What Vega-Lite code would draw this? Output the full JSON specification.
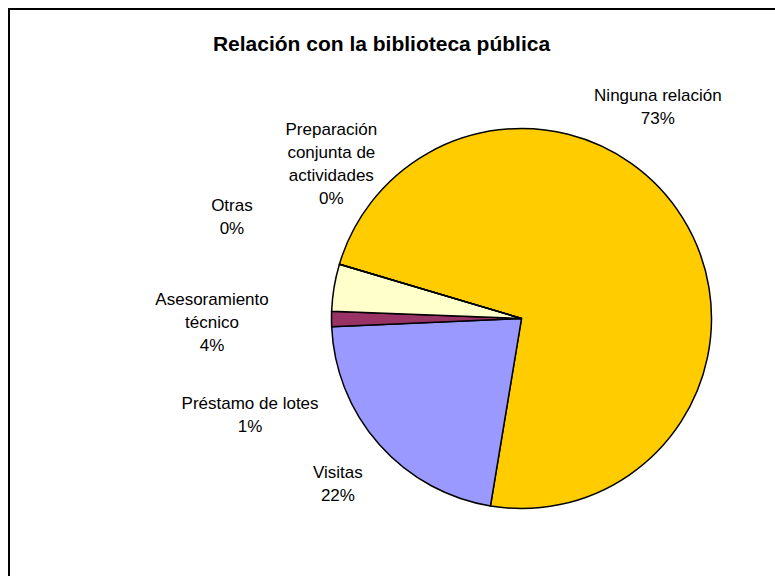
{
  "$schema": "https://vega.github.io/schema/vega-lite/v6.json",
  "width": 1025,
  "height": 619,
  "autosize": {"type": "none"},
  "padding": {"left": 9, "top": 9, "right": -259, "bottom": -52},
  "background": "white",
  "view": {"stroke": "black", "strokeWidth": 2, "fill": "white"},
  "title": {
    "text": "Relación con la biblioteca pública",
    "font": "Liberation Sans",
    "fontSize": 21,
    "fontWeight": "bold",
    "color": "black",
    "anchor": "middle",
    "frame": "group",
    "baseline": "alphabetic",
    "offset": 0,
    "dx": -140,
    "dy": 63
  },
  "config": {"view": {"stroke": "black", "strokeWidth": 2, "fill": "white"}},
  "data": {
    "values": [
      {"categoria": "Ninguna relación", "valor": 73.0, "orden": 1, "etiqueta": "Ninguna relación\n73%"},
      {"categoria": "Visitas", "valor": 21.7, "orden": 2, "etiqueta": "Visitas\n22%"},
      {"categoria": "Préstamo de lotes", "valor": 1.3, "orden": 3, "etiqueta": "Préstamo de lotes\n1%"},
      {"categoria": "Asesoramiento técnico", "valor": 4.0, "orden": 4, "etiqueta": "Asesoramiento\ntécnico\n4%"},
      {"categoria": "Otras", "valor": 0, "orden": 5, "etiqueta": "Otras\n0%"},
      {"categoria": "Preparación conjunta de actividades", "valor": 0, "orden": 6, "etiqueta": "Preparación\nconjunta de\nactividades\n0%"}
    ]
  },
  "transform": [
    {"stack": "valor", "groupby": [], "sort": [{"field": "orden", "order": "ascending"}], "as": ["v0", "v1"]}
  ],
  "layer": [
    {
      "mark": {"type": "arc", "outerRadius": 190, "stroke": "black", "strokeWidth": 1.5},
      "encoding": {
        "theta": {"field": "v0", "type": "quantitative", "stack": null, "scale": {"domain": [0, 100], "range": [5.00214, 11.28533]}},
        "theta2": {"field": "v1"},
        "color": {
          "field": "categoria",
          "type": "nominal",
          "scale": {
            "domain": ["Ninguna relación", "Visitas", "Préstamo de lotes", "Asesoramiento técnico", "Otras", "Preparación conjunta de actividades"],
            "range": ["#FFCC00", "#9999FF", "#993366", "#FFFFCC", "#CCFFFF", "#660066"]
          },
          "legend": null
        }
      }
    },
    {
      "transform": [{"filter": "datum.orden === 1"}],
      "mark": {"type": "text", "radius": 261, "thetaOffset": 1.8309, "font": "Liberation Sans", "fontSize": 17, "lineHeight": 23, "lineBreak": "\n", "align": "center", "baseline": "middle", "color": "black"},
      "encoding": {"theta": {"field": "v0", "type": "quantitative", "stack": null}, "text": {"field": "etiqueta"}}
    },
    {
      "transform": [{"filter": "datum.orden === 2"}],
      "mark": {"type": "text", "radius": 240, "thetaOffset": 0.7069, "font": "Liberation Sans", "fontSize": 17, "lineHeight": 23, "lineBreak": "\n", "align": "center", "baseline": "middle", "color": "black"},
      "encoding": {"theta": {"field": "v0", "type": "quantitative", "stack": null}, "text": {"field": "etiqueta"}}
    },
    {
      "transform": [{"filter": "datum.orden === 3"}],
      "mark": {"type": "text", "radius": 284.6, "thetaOffset": -0.2621, "font": "Liberation Sans", "fontSize": 17, "lineHeight": 23, "lineBreak": "\n", "align": "center", "baseline": "middle", "color": "black"},
      "encoding": {"theta": {"field": "v0", "type": "quantitative", "stack": null}, "text": {"field": "etiqueta"}}
    },
    {
      "transform": [{"filter": "datum.orden === 4"}],
      "mark": {"type": "text", "radius": 310, "thetaOffset": 0.0209, "font": "Liberation Sans", "fontSize": 17, "lineHeight": 23, "lineBreak": "\n", "align": "center", "baseline": "middle", "color": "black"},
      "encoding": {"theta": {"field": "v0", "type": "quantitative", "stack": null}, "text": {"field": "etiqueta"}}
    },
    {
      "transform": [{"filter": "datum.orden === 5"}],
      "mark": {"type": "text", "radius": 310.6, "thetaOffset": 0.0803, "font": "Liberation Sans", "fontSize": 17, "lineHeight": 23, "lineBreak": "\n", "align": "center", "baseline": "middle", "color": "black"},
      "encoding": {"theta": {"field": "v0", "type": "quantitative", "stack": null}, "text": {"field": "etiqueta"}}
    },
    {
      "transform": [{"filter": "datum.orden === 6"}],
      "mark": {"type": "text", "radius": 268, "thetaOffset": 0.4922, "font": "Liberation Sans", "fontSize": 17, "lineHeight": 23, "lineBreak": "\n", "align": "center", "baseline": "middle", "color": "black"},
      "encoding": {"theta": {"field": "v0", "type": "quantitative", "stack": null}, "text": {"field": "etiqueta"}}
    }
  ]
}
